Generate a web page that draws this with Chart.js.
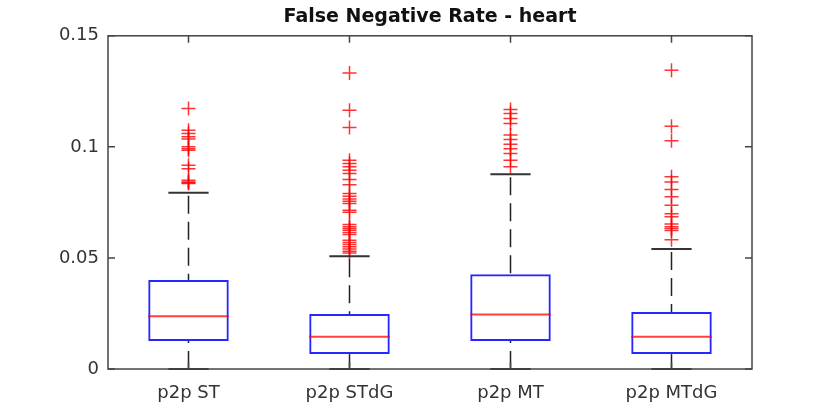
<!DOCTYPE html>
<html>
<head>
<meta charset="utf-8">
<script src="https://cdn.jsdelivr.net/npm/chart.js@4/dist/chart.umd.min.js"></script>
<style>
  html, body { margin: 0; padding: 0; background: #fff; }
  #wrap { width: 830px; height: 416px; }
</style>
</head>
<body>
<div id="wrap"><canvas id="c"></canvas></div>
<script>
// box plot stats
const categories = ['p2p ST', 'p2p STdG', 'p2p MT', 'p2p MTdG'];
const q1 = [0.0126, 0.0067, 0.0126, 0.0067];
const median = [0.0237, 0.0145, 0.0245, 0.0145];
const q3 = [0.0401, 0.0248, 0.0427, 0.0257];
const whiskerLow = [0, 0, 0, 0];
const whiskerHigh = [0.0794, 0.0508, 0.0877, 0.0540];
const yTicks = [0, 0.05, 0.1, 0.15];

// outliers per category
const outliersST = [0.1173, 0.1075, 0.106, 0.1045, 0.1035, 0.1, 0.0992, 0.0985,
  0.0917, 0.0902, 0.085, 0.0842, 0.0838, 0.0835];
const outliersSTdG = [0.1333, 0.1165, 0.1087, 0.094, 0.0925, 0.091, 0.0895, 0.088,
  0.0853, 0.083, 0.079, 0.0778, 0.0765, 0.0755, 0.0745, 0.0715, 0.0706, 0.065,
  0.064, 0.0632, 0.0625, 0.0615, 0.0605, 0.058, 0.057, 0.056, 0.055, 0.054, 0.053, 0.0522];
const outliersMT = [0.1168, 0.115, 0.1128, 0.1105, 0.1053, 0.1033, 0.1012, 0.0992,
  0.097, 0.094, 0.091];
const outliersMTdG = [0.1345, 0.1093, 0.1027, 0.0865, 0.0842, 0.0808, 0.0775, 0.0737,
  0.0699, 0.0685, 0.0653, 0.064, 0.0632, 0.0624, 0.0582];
const outliers = [outliersST, outliersSTdG, outliersMT, outliersMTdG];

const FONT = 'DejaVu Sans';
const AXIS = '#444';

// whiskers, caps, medians, frame and inward ticks (matlab look)
const boxExtras = {
  id: 'boxExtras',
  afterDatasetsDraw(chart) {
    const { ctx, chartArea: a, scales: { x, y } } = chart;
    const bar = chart.getDatasetMeta(0).data;
    ctx.save();
    categories.forEach((c, i) => {
      const cx = x.getPixelForValue(i);
      const half = bar[i].width / 2;
      const capHalf = half / 2;
      // dashed whiskers, pattern starts at the cap
      ctx.strokeStyle = '#222';
      ctx.lineWidth = 1.5;
      ctx.setLineDash([18, 8]);
      ctx.beginPath();
      ctx.moveTo(cx, y.getPixelForValue(whiskerHigh[i]) + 3);
      ctx.lineTo(cx, y.getPixelForValue(q3[i]));
      ctx.stroke();
      ctx.beginPath();
      ctx.moveTo(cx, y.getPixelForValue(whiskerLow[i]));
      ctx.lineTo(cx, y.getPixelForValue(q1[i]));
      ctx.stroke();
      ctx.setLineDash([]);
      // caps
      ctx.lineWidth = 2;
      ctx.strokeStyle = '#333';
      ctx.beginPath();
      [whiskerHigh[i], whiskerLow[i]].forEach(v => {
        const py = y.getPixelForValue(v);
        ctx.moveTo(cx - capHalf, py);
        ctx.lineTo(cx + capHalf, py);
      });
      ctx.stroke();
      // median
      ctx.strokeStyle = 'rgba(255,0,0,0.75)';
      ctx.lineWidth = 2;
      const my = y.getPixelForValue(median[i]);
      ctx.beginPath();
      ctx.moveTo(cx - half, my);
      ctx.lineTo(cx + half, my);
      ctx.stroke();
    });
    // frame
    ctx.strokeStyle = AXIS;
    ctx.lineWidth = 1.5;
    ctx.strokeRect(a.left, a.top, a.right - a.left, a.bottom - a.top);
    // inward ticks
    const tl = 7;
    ctx.beginPath();
    yTicks.forEach(v => {
      const py = y.getPixelForValue(v);
      ctx.moveTo(a.left, py); ctx.lineTo(a.left + tl, py);
      ctx.moveTo(a.right, py); ctx.lineTo(a.right - tl, py);
    });
    categories.forEach((c, i) => {
      const px = x.getPixelForValue(i);
      ctx.moveTo(px, a.top); ctx.lineTo(px, a.top + tl);
      ctx.moveTo(px, a.bottom); ctx.lineTo(px, a.bottom - tl);
    });
    ctx.stroke();
    ctx.restore();
  }
};

const outlierPoints = [];
outliers.forEach((list, i) => list.forEach(v => outlierPoints.push({ x: categories[i], y: v })));

new Chart(document.getElementById('c'), {
  type: 'bar',
  data: {
    labels: categories,
    datasets: [{
      label: 'box',
      data: categories.map((c, i) => [q1[i], q3[i]]),
      backgroundColor: 'rgba(0,0,0,0)',
      borderColor: 'rgba(0,0,255,0.85)',
      borderWidth: 2,
      borderSkipped: false,
      categoryPercentage: 1,
      barPercentage: 0.5,
    }, {
      type: 'line',
      label: 'outliers',
      data: outlierPoints,
      showLine: false,
      pointStyle: 'cross',
      pointRadius: 7,
      pointBorderWidth: 1.5,
      borderColor: 'rgba(255,0,0,0.8)',
      backgroundColor: 'rgba(255,0,0,0.8)',
    }],
  },
  options: {
    responsive: true,
    maintainAspectRatio: false,
    animation: false,
    layout: { padding: { left: 30, right: 0, top: 0, bottom: 0 } },
    plugins: {
      legend: { display: false },
      tooltip: { enabled: false },
      title: {
        display: true,
        text: 'False Negative Rate - heart',
        color: '#111',
        font: { family: FONT, size: 19, weight: 'bold' },
        padding: { top: 6, bottom: 7 },
      },
    },
    scales: {
      x: {
        afterFit: (s) => { s.height = 47; },
        grid: { display: false, drawTicks: false },
        border: { display: false },
        ticks: { color: '#333', padding: 14, font: { family: FONT, size: 18 } },
      },
      y: {
        min: 0,
        max: 0.15,
        afterFit: (s) => { s.width = 78; },
        afterBuildTicks: (s) => { s.ticks = yTicks.map(v => ({ value: v })); },
        grid: { display: false, drawTicks: false },
        border: { display: false },
        ticks: { color: '#333', padding: 9, font: { family: FONT, size: 18 },
          callback: (v) => String(v) },
      },
      yRight: {
        position: 'right',
        min: 0,
        max: 0.15,
        afterFit: (s) => { s.width = 78; },
        grid: { display: false, drawTicks: false },
        border: { display: false },
        ticks: { display: false },
      },
    },
  },
  plugins: [boxExtras],
});
</script>
</body>
</html>
